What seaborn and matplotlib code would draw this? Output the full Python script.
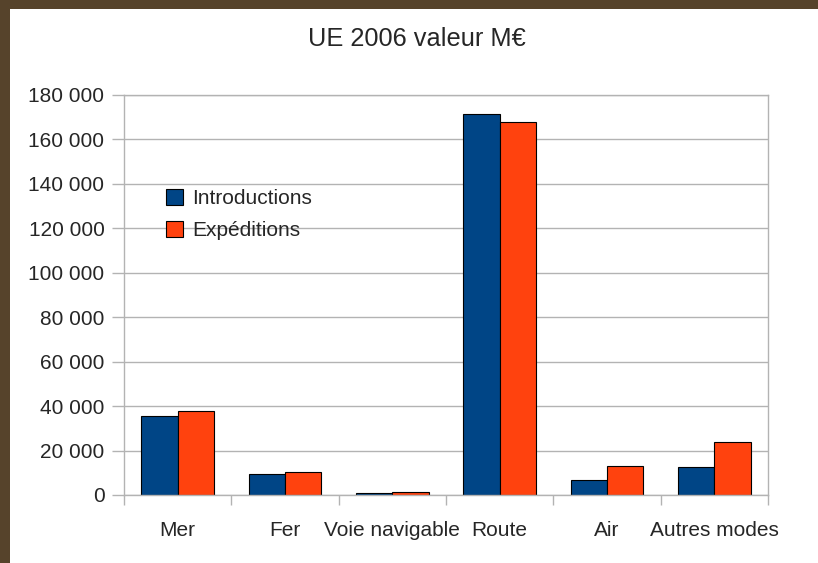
import matplotlib
matplotlib.use("Agg")
import matplotlib.pyplot as plt
import matplotlib.ticker as mticker
from matplotlib.patches import Rectangle
import pandas as pd
import seaborn as sns

# data (M€)
modes = ["Mer", "Fer", "Voie navigable", "Route", "Air", "Autres modes"]
introductions = [35500, 9300, 750, 171600, 6750, 12600]
expeditions = [37700, 10300, 1350, 167900, 12900, 23900]
series_names = ["Introductions", "Expéditions"]
colours = ["#004586", "#ff420e"]

df = pd.DataFrame({
    "mode": modes * 2,
    "valeur": introductions + expeditions,
    "flux": [series_names[0]] * len(modes) + [series_names[1]] * len(modes),
})

sns.set_style("white")
plt.rcParams["font.family"] = ["Liberation Sans", "DejaVu Sans"]
grey = "#b3b3b3"

fig = plt.figure(figsize=(8.18, 5.63), dpi=100)
ax = fig.add_axes([124 / 818, 1 - 495 / 563, (768 - 124) / 818, 400 / 563])

sns.barplot(data=df, x="mode", y="valeur", hue="flux", order=modes,
            hue_order=series_names, palette=colours, saturation=1,
            width=0.68, edgecolor="black", linewidth=0.8, ax=ax)

ax.set_xlim(-0.5, len(modes) - 0.5)
ax.set_ylim(0, 180000)
ax.yaxis.set_major_locator(mticker.MultipleLocator(20000))
ax.yaxis.set_major_formatter(mticker.FuncFormatter(lambda v, p: f"{int(v):,}".replace(",", " ")))
ax.set_xlabel("")
ax.set_ylabel("")

ax.set_axisbelow(True)
ax.grid(axis="y", color=grey, linewidth=1)
for s in ax.spines.values():
    s.set_color(grey)
    s.set_linewidth(1)

# category boundary ticks below the axis
ax.set_xticks([i - 0.5 for i in range(len(modes) + 1)], minor=True)
ax.tick_params(axis="x", which="minor", length=7.5, color=grey, width=1, bottom=True)
ax.tick_params(axis="x", which="major", length=0, pad=18.5, labelsize=15, bottom=True)
ax.tick_params(axis="y", which="major", length=8.6, color=grey, width=1, pad=5.5,
               labelsize=15, left=True)

ax.legend(loc="upper left", bbox_to_anchor=(166 / 818, 1 - 189 / 563),
          bbox_transform=fig.transFigure, frameon=False, fontsize=15,
          handlelength=0.8, handleheight=0.8, handletextpad=0.45,
          labelspacing=0.6, borderpad=0, borderaxespad=0)

fig.text(416.5 / 818, 1 - 46 / 563, "UE 2006 valeur M€", ha="center",
         va="baseline", fontsize=18.3)

# brown frame on the top and left edges
fig.patches.append(Rectangle((0, 1 - 9 / 563), 1, 9 / 563, transform=fig.transFigure,
                             facecolor="#56432b", edgecolor="none", zorder=10))
fig.patches.append(Rectangle((0, 0), 10 / 818, 1, transform=fig.transFigure,
                             facecolor="#56432b", edgecolor="none", zorder=10))

fig.savefig("out.png", dpi=100)
